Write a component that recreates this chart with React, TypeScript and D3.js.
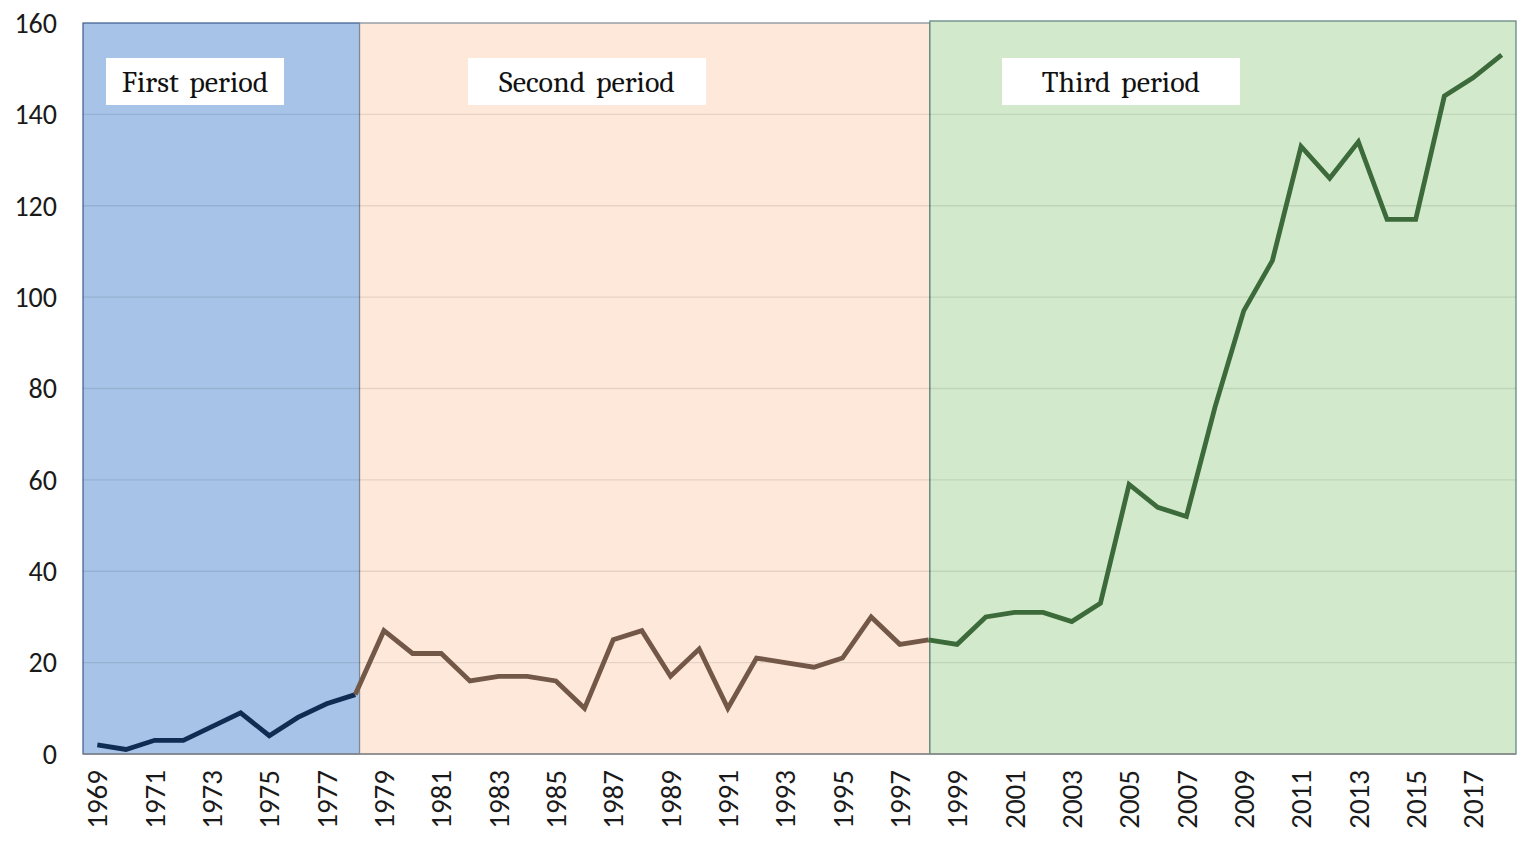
import React, { useEffect, useRef } from "react";
import * as d3 from "d3";

const years = d3.range(1969, 2019);
const values = [
  2, 1, 3, 3, 6, 9, 4, 8, 11, 13,
  27, 22, 22, 16, 17, 17, 16, 10, 25, 27,
  17, 23, 10, 21, 20, 19, 21, 30, 24, 25,
  24, 30, 31, 31, 29, 33, 59, 54, 52, 76,
  97, 108, 133, 126, 134, 117, 117, 144, 148, 153,
];
const periodNames = ["First period", "Second period", "Third period"];
const periodStart = [1968.5, 1978.15, 1998.05];
const periodEnd = [1978.15, 1998.05, 2018.5];
const lineStart = [1969, 1978, 1998];
const lineEnd = [1978, 1998, 2018];
const bandFill = ["#a7c3e7", "#fde8da", "#d2eacb"];
const bandStroke = ["#3b5a8a", "#7d8a96", "#5a7f7c"];
const lineColor = ["#0f2c52", "#735848", "#3c6a3a"];
const yTicks = [0, 20, 40, 60, 80, 100, 120, 140, 160];

export default function App() {
  const ref = useRef<SVGSVGElement>(null);

  useEffect(() => {
    const svg = d3.select(ref.current);
    svg.selectAll("*").remove();

    const x = d3.scaleLinear().domain([1968.5, 2018.5]).range([83, 1516]);
    const y = d3.scaleLinear().domain([0, 160]).range([754, 23]);

    // period backgrounds
    svg
      .selectAll("rect.band")
      .data(periodNames)
      .join("rect")
      .attr("class", "band")
      .attr("x", (_, i) => x(periodStart[i]))
      .attr("y", (_, i) => (i === 2 ? y(160) - 2 : y(160)))
      .attr("width", (_, i) => x(periodEnd[i]) - x(periodStart[i]))
      .attr("height", (_, i) => y(0) - y(160) + (i === 2 ? 2 : 0))
      .attr("fill", (_, i) => bandFill[i])
      .attr("stroke", (_, i) => bandStroke[i])
      .attr("stroke-width", 1.2);

    // gridlines
    svg
      .append("g")
      .selectAll("line")
      .data(yTicks.filter((t) => t > 0 && t < 160))
      .join("line")
      .attr("x1", x(1968.5))
      .attr("x2", x(2018.5))
      .attr("y1", (d) => y(d))
      .attr("y2", (d) => y(d))
      .attr("stroke", "#000")
      .attr("stroke-opacity", 0.09)
      .attr("stroke-width", 1.3);

    // bottom axis line
    svg
      .append("line")
      .attr("x1", x(1968.5))
      .attr("x2", x(2018.5))
      .attr("y1", y(0))
      .attr("y2", y(0))
      .attr("stroke", "#8a8a8a")
      .attr("stroke-width", 1.5);

    const tickFont = "Carlito, 'Open Sans', 'Liberation Sans', sans-serif";

    // y tick labels
    svg
      .append("g")
      .selectAll("text")
      .data(yTicks)
      .join("text")
      .attr("x", 57)
      .attr("y", (d) => y(d))
      .attr("dy", "0.35em")
      .attr("text-anchor", "end")
      .attr("font-family", tickFont)
      .attr("font-size", 28)
      .attr("fill", "#1a1a1a")
      .text((d) => d);

    // x tick labels (every other year)
    svg
      .append("g")
      .selectAll("text")
      .data(years.filter((yr) => (yr - 1969) % 2 === 0))
      .join("text")
      .attr("transform", (d) => `translate(${x(d)},770) rotate(-90)`)
      .attr("dy", "0.35em")
      .attr("text-anchor", "end")
      .attr("font-family", tickFont)
      .attr("font-size", 29)
      .attr("fill", "#1a1a1a")
      .text((d) => d);

    // lines by period
    const line = d3
      .line<number>()
      .x((d) => x(d))
      .y((d) => y(values[d - 1969]));

    svg
      .append("g")
      .selectAll("path")
      .data(periodNames)
      .join("path")
      .attr("d", (_, i) => line(d3.range(lineStart[i], lineEnd[i] + 1)))
      .attr("fill", "none")
      .attr("stroke", (_, i) => lineColor[i])
      .attr("stroke-width", 4.8)
      .attr("stroke-linejoin", "miter");

    // period labels
    const labelX = [106, 468, 1002];
    const labelW = [178, 238, 238];
    const lab = svg
      .append("g")
      .selectAll("g")
      .data(periodNames)
      .join("g");
    lab
      .append("rect")
      .attr("x", (_, i) => labelX[i])
      .attr("y", 58)
      .attr("width", (_, i) => labelW[i])
      .attr("height", 47)
      .attr("fill", "#fff");
    lab
      .append("text")
      .attr("x", (_, i) => labelX[i] + labelW[i] / 2)
      .attr("y", 81)
      .attr("dy", "0.35em")
      .attr("text-anchor", "middle")
      .attr("font-family", "Caladea, 'Liberation Serif', 'DejaVu Serif', serif")
      .attr("font-size", 30)
      .attr("fill", "#111")
      .attr("word-spacing", 4)
      .text((d) => d);
  }, []);

  return (
    <div style={{ position: "absolute", left: 0, top: 0, background: "#fff" }}>
      <svg ref={ref} width={1532} height={849} />
    </div>
  );
}
